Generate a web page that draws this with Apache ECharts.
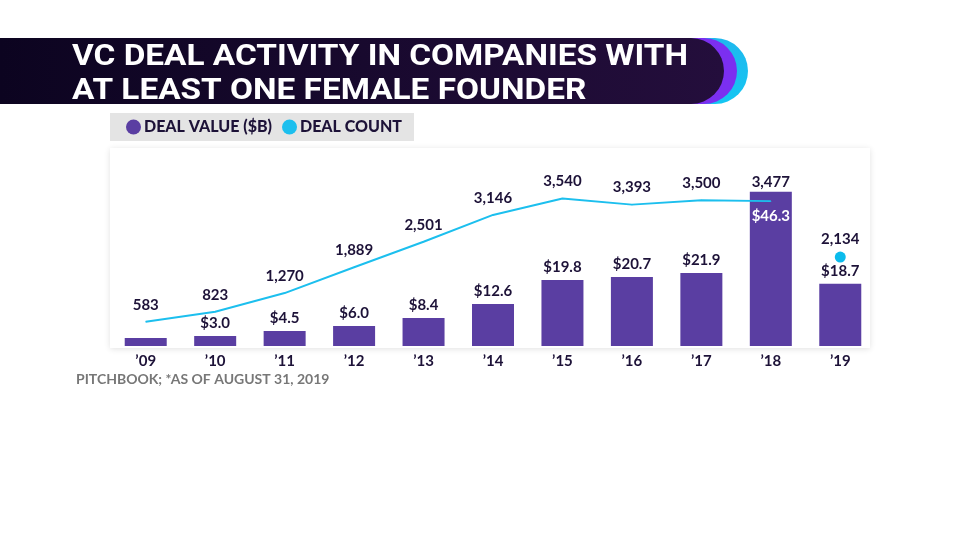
<!DOCTYPE html>
<html><head><meta charset="utf-8">
<script src="https://cdn.jsdelivr.net/npm/echarts@6/dist/echarts.min.js"></script>
<style>html,body{margin:0;padding:0;background:#fff}#c{width:960px;height:540px}</style>
</head><body><div id="c"></div>
<script>
var years = ["’09","’10","’11","’12","’13","’14","’15","’16","’17","’18","’19"];
var dealValue = [2.4, 3.0, 4.5, 6.0, 8.4, 12.6, 19.8, 20.7, 21.9, 46.3, 18.7];
var dealValueLabels = ["", "$3.0", "$4.5", "$6.0", "$8.4", "$12.6", "$19.8", "$20.7", "$21.9", "$46.3", "$18.7"];
var dealCount = [583, 823, 1270, 1889, 2501, 3146, 3540, 3393, 3500, 3477];
var dealCount2019 = 2134;
var titleLines = ["VC DEAL ACTIVITY IN COMPANIES WITH", "AT LEAST ONE FEMALE FOUNDER"];
var sourceText = "PITCHBOOK; *AS OF AUGUST 31, 2019";

var NAVY = "#1d1238", PURPLE = "#5a3ea2", CYAN = "#1cbfee";
var FONT = "Lato";
var TITLE_FONT = 'bold 29px Roboto';

// horizontal squeeze so the title matches the condensed face of the reference
var ctx = document.createElement('canvas').getContext('2d');
ctx.font = TITLE_FONT;
var titleScale = 616 / ctx.measureText(titleLines[0]).width;

var chart = echarts.init(document.getElementById('c'));

var barData = dealValue.map(function (v, i) {
  var o = { value: v };
  if (i === 9) o.label = { position: 'insideTop', color: '#fff', distance: 17 };
  return o;
});
var lineData = dealCount.map(function (v, i) {
  var o = { value: v };
  if (i === 9) o.label = { offset: [0, -2] };
  return o;
});
var scatterData = years.map(function (y, i) { return i === 10 ? dealCount2019 : '-'; });

chart.setOption({
  animation: false,
  textStyle: { fontFamily: FONT },
  graphic: [
    { type: 'rect', shape: { x: 0, y: 38, width: 748, height: 66, r: [0, 33, 33, 0] }, z: 1,
      style: { fill: { type: 'linear', x: 0, y: 0, x2: 0, y2: 1, colorStops: [{ offset: 0, color: '#1fb8ee' }, { offset: 1, color: '#14c6f2' }] } } },
    { type: 'rect', shape: { x: 0, y: 38, width: 737, height: 66, r: [0, 33, 33, 0] }, z: 2,
      style: { fill: '#7b2ff0' } },
    { type: 'rect', shape: { x: 0, y: 38, width: 724, height: 66, r: [0, 33, 33, 0] }, z: 3,
      style: { fill: { type: 'linear', x: 0, y: 0, x2: 1, y2: 0, colorStops: [{ offset: 0, color: '#0c0420' }, { offset: 1, color: '#240e3c' }] } } },
    { type: 'text', x: 72, y: 41, scaleX: titleScale, z: 4,
      style: { text: titleLines.join('\n'), fill: '#fff', font: TITLE_FONT, lineHeight: 34 } },
    { type: 'rect', shape: { x: 110, y: 148, width: 760, height: 200 }, z: -1,
      style: { fill: '#fff', shadowBlur: 6, shadowColor: 'rgba(0,0,0,0.12)', shadowOffsetY: 1 } },
    { type: 'text', left: 76, top: 372,
      style: { text: sourceText, fill: '#777', font: 'bold 14px ' + FONT } }
  ],
  legend: {
    left: 110, top: 113, backgroundColor: '#e4e4e4', borderRadius: 0,
    padding: [6, 12, 6, 16], itemGap: 10, itemWidth: 15, itemHeight: 15,
    data: [{ name: 'DEAL VALUE ($B)', icon: 'circle' }, { name: 'DEAL COUNT', icon: 'circle' }],
    textStyle: { color: NAVY, fontWeight: 900, fontSize: 16, fontFamily: FONT, padding: [0, 0, 0, -2] }
  },
  grid: { left: 111, right: 85, top: 146, bottom: 194 },
  xAxis: {
    type: 'category', data: years,
    axisLine: { show: false }, axisTick: { show: false },
    axisLabel: { color: NAVY, fontWeight: 'bold', fontSize: 15, margin: 8 }
  },
  yAxis: [
    { type: 'value', min: 0, max: 60, show: false, splitLine: { show: false } },
    { type: 'value', min: 0, max: 4800, show: false, splitLine: { show: false } }
  ],
  series: [
    { name: 'DEAL VALUE ($B)', type: 'bar', data: barData, barWidth: 42, yAxisIndex: 0,
      itemStyle: { color: PURPLE },
      label: { show: true, position: 'top', distance: 5, color: NAVY, fontWeight: 'bold', fontSize: 15,
        formatter: function (p) { return dealValueLabels[p.dataIndex]; } } },
    { name: 'DEAL COUNT', type: 'line', data: lineData, yAxisIndex: 1, z: 5,
      symbol: 'circle', symbolSize: 1, showSymbol: true,
      lineStyle: { color: CYAN, width: 2 }, itemStyle: { color: CYAN },
      label: { show: true, position: 'top', distance: 9, color: NAVY, fontWeight: 'bold', fontSize: 15,
        formatter: function (p) { return p.value.toLocaleString('en-US'); } } },
    { name: 'DEAL COUNT', type: 'scatter', data: scatterData, yAxisIndex: 1, z: 5,
      symbol: 'circle', symbolSize: 11, itemStyle: { color: '#0bbbec', opacity: 1 },
      label: { show: true, position: 'top', distance: 5, color: NAVY, fontWeight: 'bold', fontSize: 15,
        formatter: function (p) { return p.value.toLocaleString('en-US'); } } }
  ]
});
</script></body></html>
